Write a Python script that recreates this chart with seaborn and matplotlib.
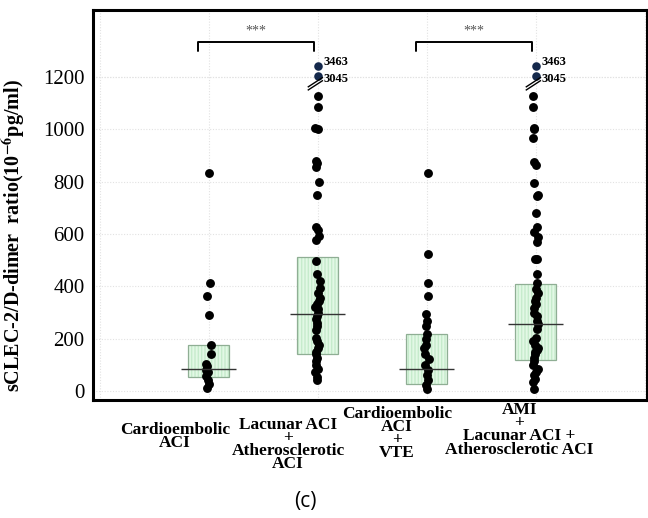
import numpy as np
import pandas as pd
import matplotlib
matplotlib.use("Agg")
import matplotlib.pyplot as plt
import seaborn as sns

# ---- data -------------------------------------------------------------
groups = ["Cardioembolic\nACI",
          "Lacunar ACI\n+\nAtherosclerotic\nACI",
          "Cardioembolic\nACI\n+\nVTE",
          "AMI\n+\nLacunar ACI +\nAtherosclerotic ACI"]

vals_cardio = [833, 413, 363, 289, 177, 139, 104, 93, 81, 70, 58, 42, 25, 12]
vals_lacunar = [1127, 1085, 1006, 1000, 880, 870, 855, 798, 748, 625, 615, 594,
                578, 498, 448, 420, 394, 375, 356, 343, 332, 320, 312, 298,
                285, 273, 260, 247, 231, 201, 189, 177, 162, 150, 139, 124,
                112, 100, 85, 73, 54, 42]
vals_cardio_vte = [833, 525, 413, 363, 293, 266, 247, 216, 197, 177, 162, 139,
                   120, 100, 81, 62, 42, 23, 8]
vals_ami = [1127, 1085, 1006, 1000, 968, 876, 865, 795, 748, 745, 679, 625,
            606, 587, 568, 505, 503, 448, 413, 390, 375, 356, 343, 332, 317,
            298, 285, 266, 255, 235, 201, 189, 177, 162, 155, 150, 139, 124,
            112, 100, 85, 73, 62, 46, 35, 8]

# values beyond the axis break, shown above the break marks
outlier_groups = [1, 1, 3, 3]
outlier_vals = [3463, 3045, 3463, 3045]

q1 = [54, 139, 27, 116]
q3 = [177, 513, 216, 409]
medians = [85, 293, 85, 255]

yticks = [0, 200, 400, 600, 800, 1000, 1200]
sig_pairs = [(0, 1), (2, 3)]
sig_text = "***"

# ---- broken y scale: linear up to 1200, compressed above ---------------
_xp = np.array([-1e4, 1200.0, 3000.0, 1e4])
_fp = np.array([-1e4, 1200.0, 1200.5, 1200.5 + 7000 * 0.0957])


def fwd(y):
    return np.interp(y, _xp, _fp)


def inv(y):
    return np.interp(y, _fp, _xp)


# ---- figure -----------------------------------------------------------
sns.set_theme(style="white")
plt.rcParams["font.family"] = ["Liberation Serif", "DejaVu Serif"]
plt.rcParams["mathtext.fontset"] = "stix"
plt.rcParams["text.color"] = "black"
plt.rcParams["axes.labelcolor"] = "black"
plt.rcParams["ytick.color"] = "black"

fig = plt.figure(figsize=(6.48, 5.18), dpi=100)
ax = fig.add_axes([0.1435, 0.228, 0.8545, 0.753])

all_vals = [vals_cardio, vals_lacunar, vals_cardio_vte, vals_ami]
df = pd.DataFrame({
    "pos": np.concatenate([[i] * len(v) for i, v in enumerate(all_vals)]).astype(float),
    "value": np.concatenate(all_vals).astype(float),
})

# faint grid
grid_kw = dict(color="#e2e2e2", lw=0.8, ls=(0, (1, 1.5)), zorder=0)
for yt in yticks:
    ax.axhline(yt, **grid_kw)
for xg in range(-1, 5):
    ax.axvline(xg, **grid_kw)
ax.axhline(1296, **grid_kw)

# interquartile boxes with light green vertical hatching
xs = np.arange(len(groups))
ax.bar(xs, np.array(q3) - np.array(q1), bottom=q1, width=0.38,
       color="#e2f8e5", edgecolor="#c6ebcc", hatch="|||||", linewidth=0, zorder=1)
ax.bar(xs, np.array(q3) - np.array(q1), bottom=q1, width=0.38,
       facecolor="none", edgecolor="#8fae94", linewidth=0.9, zorder=2)

np.random.seed(3)
sns.stripplot(data=df, x="pos", y="value", native_scale=True, orient="v",
              jitter=0.025, color="black", size=6.4, linewidth=0,
              ax=ax, zorder=3)

# medians
ax.hlines(medians, xs - 0.25, xs + 0.25, color="#333333", lw=1.0, zorder=4)

# values beyond the break
out_df = pd.DataFrame({"pos": np.array(outlier_groups, dtype=float),
                       "value": np.array(outlier_vals, dtype=float)})
sns.scatterplot(data=out_df, x="pos", y="value", ax=ax, color="#14284b",
                marker="o", s=38, linewidth=0, zorder=5, legend=False)

ax.set_yscale("function", functions=(fwd, inv))
ax.set_xlim(-1.06, 4.02)
ax.set_ylim(-35, inv(1458))
ax.set_yticks(yticks)
ax.set_yticklabels([str(t) for t in yticks], fontsize=15)
ax.set_xticks([])
ax.set_xlabel("")
ax.set_ylabel(r"sCLEC-2/D-dimer  ratio(10$^{\mathbf{-6}}$pg/ml)",
              fontsize=14.5, fontweight="bold")
ax.yaxis.set_label_coords(-0.118, 0.42)
ax.tick_params(axis="y", length=0, pad=6)

for sp in ax.spines.values():
    sp.set_color("black")
    sp.set_linewidth(2.2)

# labels next to the values beyond the break (nudged apart vertically)
top_val = max(outlier_vals)
for g, v in zip(outlier_groups, outlier_vals):
    ax.annotate(str(v), (g, v), xytext=(4, 2.5 if v == top_val else -2.5),
                textcoords="offset points", fontsize=9, fontweight="bold",
                va="center", ha="left", zorder=6)

# break marks
for g in sorted(set(outlier_groups)):
    for dy in (0, 12):
        ax.plot([g - 0.09, g + 0.05], [1150 + dy, 1188 + dy],
                color="black", lw=1.0, zorder=6, solid_capstyle="butt")

# significance brackets
xt = ax.get_xaxis_transform()
for a, b in sig_pairs:
    xa, xb = a - 0.1, b - 0.03
    ax.plot([xa, xa, xb, xb], [0.894, 0.917, 0.917, 0.894], color="black",
            lw=1.4, transform=xt, clip_on=False)
    ax.text((xa + xb) / 2, 0.928, sig_text, transform=xt, ha="center",
            va="bottom", fontsize=10, color="#555555")

# category labels
label_dx = [-0.31, -0.27, -0.27, -0.15]
label_y = [-0.056, -0.043, -0.016, -0.006]
for i, lab in enumerate(groups):
    ax.text(i + label_dx[i], label_y[i], lab, transform=xt, ha="center",
            va="top", fontsize=12.5, fontweight="bold", linespacing=0.76,
            multialignment="center")

fig.text(0.471, 0.012, "(c)", ha="center", va="bottom", fontsize=15,
         family=["Open Sans", "DejaVu Sans"])

fig.savefig("out.png", dpi=100)
